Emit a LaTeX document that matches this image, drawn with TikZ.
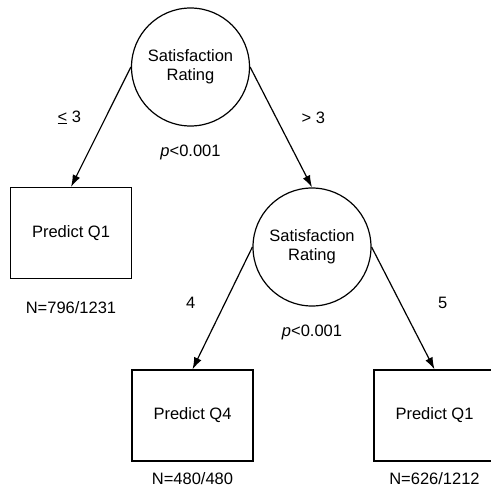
\documentclass[tikz,border=0pt]{standalone}
\usepackage{fontspec}
\setmainfont{Liberation Sans}
\usetikzlibrary{positioning, arrows.meta}

\begin{document}
\begin{tikzpicture}[x=1pt, y={(0pt,-1pt)}, font=\fontsize{16.5}{19}\selectfont,
        split/.style={circle, draw, line width=1.2pt, minimum size=118pt, inner sep=0pt, align=center},
        leaf/.style={rectangle, draw, line width=1.2pt, minimum width=121pt, minimum height=91pt, inner sep=0pt},
        branch/.style={-{Latex[length=12pt,width=8pt]}, line width=1.2pt},
        lbl/.style={inner sep=0pt}]
        \useasboundingbox (0,0) rectangle (491,490);

        \node [split] (c1) at (190.5,67) {Satisfaction\\Rating};
        \node [split, below of = c1, node distance=180pt, xshift=121.5pt] (c2) {Satisfaction\\Rating};
        \node [leaf, below of = c1, node distance=166pt, xshift=-119.5pt] (b1) {Predict Q1};
        \node [leaf, below of = c2, node distance=168.5pt, xshift=-119.5pt] (b2) {Predict Q4};
        \node [leaf, below of = c2, node distance=168.5pt, xshift=122.5pt] (b3) {Predict Q1};

        \node [lbl, below=18pt of c1] (p1) {\textit{p}<0.001};
        \node [lbl, below=18pt of c2] (p2) {\textit{p}<0.001};
        \node [lbl, below=22pt of b1] (n1) {N=796/1231};
        \node [lbl, below=11pt of b2] (n2) {N=480/480};
        \node [lbl, below=11pt of b3] (n3) {N=626/1212};

        \draw (c1.west) edge[branch] node[lbl, pos=0.42, left=24pt]{\underline{<} 3} (b1.north);
        \draw (c1.east) edge[branch] node[lbl, pos=0.42, right=25pt]{> 3} (c2.north);
        \draw (c2.west) edge[branch] node[lbl, pos=0.46, left=29pt]{4} (b2.north);
        \draw (c2.east) edge[branch] node[lbl, pos=0.46, right=37pt]{5} (b3.north);
    \end{tikzpicture}
\end{document}
